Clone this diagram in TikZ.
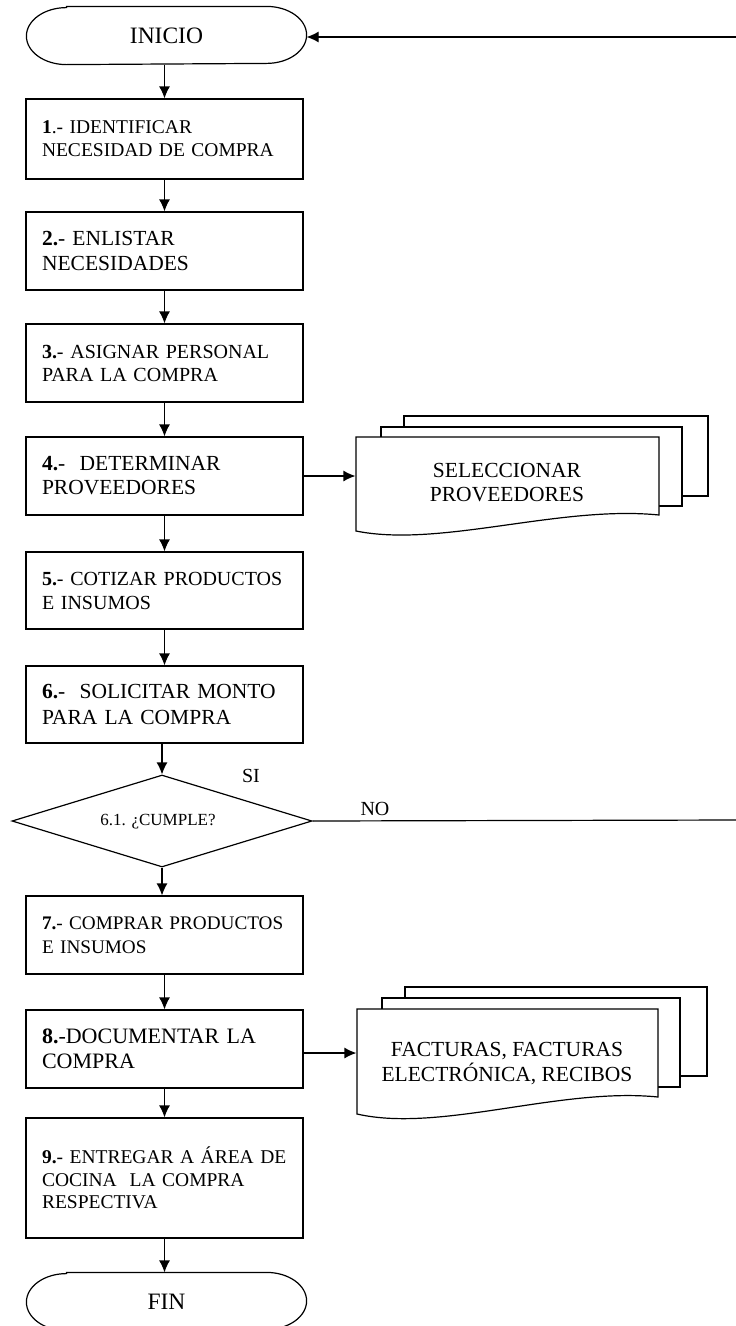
\documentclass[tikz,border=0pt]{standalone}
\usepackage{fontspec}
\setmainfont{Liberation Serif}
\usetikzlibrary{arrows.meta,shapes.geometric}
\newcommand\fsz[2]{\fontsize{#1}{#2}\selectfont}
\begin{document}
\begin{tikzpicture}[x=1pt,y=-1pt,line width=1.2pt,
  arr/.style={-{Latex[length=12pt,width=11pt]}},
  stepbox/.style={draw, rectangle, minimum width=277pt, minimum height=78pt,
    text width=249pt, inner xsep=14pt, inner ysep=0pt, align=left},
  term/.style={rectangle, minimum width=279pt, minimum height=57pt, inner sep=0pt, font={\fsz{23.5}{26}}},
  frame/.style={rectangle, minimum width=303pt, minimum height=78pt, inner sep=0pt},
  doctext/.style={align=center, inner sep=0pt},
  lbl/.style={inner sep=0pt},
  page/.style={draw, fill=white}
]
\useasboundingbox (0,0) rectangle (736,1326);

% terminals
\node[term] (inicio) at (166.5,35.5) {INICIO};
\node[term] (fin) at (166.5,1301.5) {FIN};
\foreach \t in {inicio,fin}{
  \draw ([xshift=40pt]\t.north west) -- ([xshift=-40pt]\t.north east)
    arc[start angle=90,end angle=-90,x radius=40pt,y radius=28.5pt]
    -- ([xshift=40pt]\t.south west)
    arc[start angle=270,end angle=90,x radius=40pt,y radius=28.5pt] -- cycle;
}

% process boxes
\node[stepbox, minimum height=80pt, font={\fsz{19.5}{23}}] (b1) at (164.5,139)
  {\hspace*{2pt}\textbf{1}.- IDENTIFICAR\\\hspace*{2pt}NECESIDAD DE COMPRA};
\node[stepbox, font={\fsz{21.5}{25}}] (b2) at (164.5,251)
  {\hspace*{2pt}\textbf{2.}- ENLISTAR\\\hspace*{2pt}NECESIDADES};
\node[stepbox, font={\fsz{20}{23}}] (b3) at (164.5,363)
  {\hspace*{2pt}\textbf{3.}- ASIGNAR PERSONAL\\\hspace*{2pt}PARA LA COMPRA};
\node[stepbox, font={\fsz{21.5}{24}}] (b4) at (164.5,476)
  {\hspace*{2pt}\textbf{4.}-\ \ DETERMINAR\\\hspace*{2pt}PROVEEDORES};
\node[stepbox, minimum height=77pt, font={\fsz{20}{24}}] (b5) at (164.5,590.5)
  {\hspace*{2pt}\textbf{5.}- COTIZAR PRODUCTOS\\\hspace*{2pt}E INSUMOS};
\node[stepbox, minimum height=77pt, font={\fsz{21.5}{26}}] (b6) at (164.5,704.5)
  {\hspace*{2pt}\textbf{6.}-\ \ SOLICITAR MONTO\\\hspace*{2pt}PARA LA COMPRA};
\node[diamond, draw, minimum width=300pt, minimum height=92pt, inner sep=0pt] (q) at (162,821) {};
\node[lbl, font={\fsz{17}{20}}] (qt) at (158,822) {6.1. ¿CUMPLE?};
\node[stepbox, font={\fsz{19.2}{24}}] (b7) at (164.5,935)
  {\hspace*{2pt}\textbf{7.}- COMPRAR PRODUCTOS\\\hspace*{2pt}E INSUMOS};
\node[stepbox, font={\fsz{22}{25}}] (b8) at (164.5,1049)
  {\hspace*{2pt}\textbf{8.}-DOCUMENTAR LA\\\hspace*{2pt}COMPRA};
\node[stepbox, minimum height=120pt, font={\fsz{19.5}{22.5}}] (b9) at (164.5,1178)
  {\hspace*{2pt}\textbf{9.}- ENTREGAR A ÁREA DE\\\hspace*{2pt}COCINA\ \ LA COMPRA\\\hspace*{2pt}RESPECTIVA};

% labels
\node[lbl, font={\fsz{20}{22}}] (si) at (251,776) {SI};
\node[lbl, font={\fsz{20}{22}}] (no) at (375,809) {NO};

% document stacks
\draw[page] (404,416) rectangle (708,496);
\draw[page] (381,427) rectangle (682,506);
\draw[page] (356,437) -- (659,437) -- (659,515)
  .. controls (560,505) and (440,548) .. (356,531) -- cycle;
\node[frame] (d1) at (507.5,476) {};
\node[doctext, font={\fsz{21.5}{24}}] (d1t) at (507,483) {SELECCIONAR\\PROVEEDORES};

\draw[page] (405,987) rectangle (707,1076);
\draw[page] (382,998) rectangle (680,1087);
\draw[page] (357,1009) -- (658,1009) -- (658,1097)
  .. controls (560,1087) and (440,1133) .. (357,1114) -- cycle;
\node[frame, minimum width=301pt, minimum height=88pt] (d2) at (507.5,1053) {};
\node[doctext, font={\fsz{21.5}{25}}] (d2t) at (507,1064) {FACTURAS, FACTURAS\\ELECTRÓNICA, RECIBOS};

% connectors
\coordinate (topend) at (736,37);
\coordinate (noend) at (736,820);
\draw[arr] (topend) -- (inicio.east |- topend);
\draw (q.east) -- (noend);
\draw[arr] (inicio.south -| b1.north) -- (b1.north);
\draw[arr] (b1) -- (b2);
\draw[arr] (b2) -- (b3);
\draw[arr] (b3) -- (b4);
\draw[arr] (b4) -- (b5);
\draw[arr] (b5) -- (b6);
\draw[arr] (b6.south -| q.north) -- (q.north);
\draw[arr] (q.south) -- (q.south |- b7.north);
\draw[arr] (b7) -- (b8);
\draw[arr] (b8) -- (b9);
\draw[arr] (b9.south) -- (b9.south |- fin.north);
\draw[arr] (b4.east) -- (d1.west);
\draw[arr] (d2.west -| b8.east) -- (d2.west);
\end{tikzpicture}
\end{document}
